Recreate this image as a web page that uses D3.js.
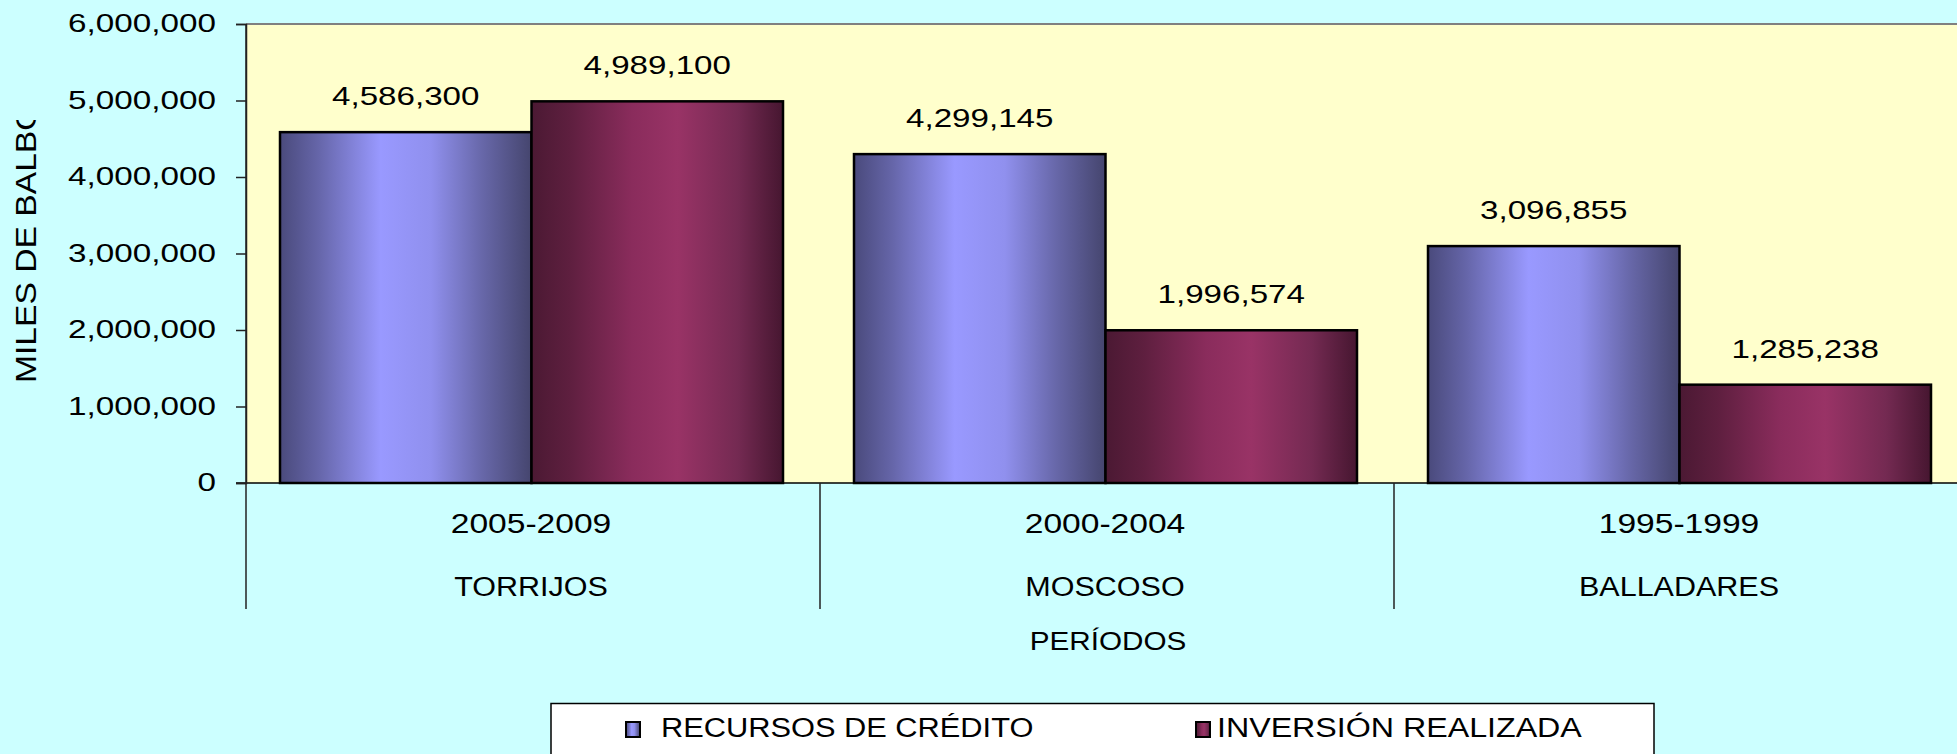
<!DOCTYPE html>
<html><head><meta charset="utf-8">
<script src="https://cdn.jsdelivr.net/npm/d3@7"></script>
<style>html,body{margin:0;padding:0;background:#CCFFFF;overflow:hidden}svg{display:block}</style>
</head><body>
<svg id="c" width="1957" height="754"></svg>
<script>
const periods = ["2005-2009", "2000-2004", "1995-1999"];
const presidents = ["TORRIJOS", "MOSCOSO", "BALLADARES"];
const seriesNames = ["RECURSOS DE CRÉDITO", "INVERSIÓN REALIZADA"];
const recursos = [4586300, 4299145, 3096855];
const inversion = [4989100, 1996574, 1285238];
const yTicks = [0, 1000000, 2000000, 3000000, 4000000, 5000000, 6000000];
const yTitle = "MILES DE BALBOAS";
const xTitle = "PERÍODOS";

const W = 1957, H = 754;
const FONT = "Arial, 'Liberation Sans', sans-serif";
const svg = d3.select("#c");
svg.append("rect").attr("width", W).attr("height", H).attr("fill", "#CCFFFF");

const defs = svg.append("defs");
function grad(id, stops) {
  const g = defs.append("linearGradient").attr("id", id).attr("x1", "0%").attr("x2", "100%").attr("y1", "0%").attr("y2", "0%");
  stops.forEach(s => g.append("stop").attr("offset", s[0]).attr("stop-color", s[1]));
}
grad("gBlue", [[0, "#4a4a7c"], [0.15, "#6565a8"], [0.4, "#9999ff"], [0.6, "#9090ee"], [0.8, "#6868aa"], [1, "#45456e"]]);
grad("gMaroon", [[0, "#4b1933"], [0.15, "#5e1f3f"], [0.4, "#8a2c5c"], [0.58, "#993366"], [0.82, "#742a52"], [1, "#461630"]]);
const fills = ["url(#gBlue)", "url(#gMaroon)"];

const plotL = 246, plotT = 24, plotB = 483, groupW = 574;
const y = d3.scaleLinear().domain([0, 6000000]).range([plotB, plotT]);
const x0 = d3.scaleBand().domain(periods).range([plotL, plotL + groupW * periods.length]).padding(0);
const x1 = d3.scaleBand().domain(seriesNames).range([34, groupW - 37]).padding(0);

// plot area
svg.append("rect").attr("x", plotL).attr("y", plotT).attr("width", W - plotL).attr("height", plotB - plotT).attr("fill", "#FFFFCC");
svg.append("line").attr("x1", plotL).attr("x2", W).attr("y1", plotT).attr("y2", plotT).attr("stroke", "#808080").attr("stroke-width", 2);

const fmt = d3.format(",");
const rows = periods.map((p, i) => ({p, vals: [recursos[i], inversion[i]]}));

const grp = svg.append("g").selectAll("g").data(rows).join("g")
  .attr("transform", d => `translate(${x0(d.p)},0)`);
grp.selectAll("rect").data(d => d.vals.map((v, k) => ({v, k}))).join("rect")
  .attr("x", d => x1(seriesNames[d.k]))
  .attr("width", x1.bandwidth())
  .attr("y", d => y(d.v))
  .attr("height", d => plotB - y(d.v))
  .attr("fill", d => fills[d.k])
  .attr("stroke", "#000").attr("stroke-width", 2.5);

// stretched text helper
function stext(g, x, yy, txt, size, sx, anchor) {
  return g.append("text")
    .attr("transform", `translate(${x},${yy}) scale(${sx},1)`)
    .attr("text-anchor", anchor || "middle")
    .attr("font-family", FONT).attr("font-size", size).attr("fill", "#000")
    .text(txt);
}

// data labels
rows.forEach(r => {
  r.vals.forEach((v, k) => {
    stext(svg, x0(r.p) + x1(seriesNames[k]) + x1.bandwidth() / 2, y(v) - 27, fmt(v), 26.5, 1.25);
  });
});

// x axis line
svg.append("line").attr("x1", plotL - 10).attr("x2", W).attr("y1", plotB).attr("y2", plotB).attr("stroke", "#000").attr("stroke-width", 1.5);
// y axis
const yAxis = d3.axisLeft(y).tickValues(yTicks).tickSize(10).tickPadding(20).tickFormat(fmt);
const ya = svg.append("g").attr("transform", `translate(${plotL},0)`).call(yAxis);
ya.select(".domain").attr("stroke", "#222").attr("stroke-width", 1.5);
ya.selectAll(".tick line").attr("stroke", "#222").attr("stroke-width", 1.5);
ya.selectAll(".tick text").attr("font-family", FONT).attr("font-size", 25.6).attr("fill", "#000")
  .attr("x", -30 / 1.3).attr("transform", "scale(1.3,1)").attr("dy", "0.3em");

// category separators
svg.append("line").attr("x1", plotL).attr("x2", plotL).attr("y1", plotT).attr("y2", 609).attr("stroke", "#222").attr("stroke-width", 1.5);
periods.forEach((p, i) => {
  if (i > 0) svg.append("line").attr("x1", x0(p)).attr("x2", x0(p)).attr("y1", plotB).attr("y2", 609).attr("stroke", "#222").attr("stroke-width", 1.5);
  const cx = x0(p) + x0.bandwidth() / 2 - 2;
  stext(svg, cx, 533, p, 28, 1.2);
  stext(svg, cx, 596, presidents[i], 28, 1.09);
});

// x title
stext(svg, 1108, 650, xTitle, 25.6, 1.16);

// y title (clipped like original)
defs.append("clipPath").attr("id", "ytClip").append("rect").attr("x", 0).attr("y", 120).attr("width", 60).attr("height", 400);
svg.append("g").attr("clip-path", "url(#ytClip)").append("text")
  .attr("transform", "translate(36,383) rotate(-90) scale(1.16,1)")
  .attr("text-anchor", "start").attr("font-family", FONT).attr("font-size", 29).attr("fill", "#000")
  .text(yTitle);

// legend
const lg = svg.append("g");
lg.append("rect").attr("x", 551).attr("y", 703.5).attr("width", 1103).attr("height", 80).attr("fill", "#FFFFFF").attr("stroke", "#000").attr("stroke-width", 1.5);
const legX = [626, 1196];
const legTextX = [661, 1217];
seriesNames.forEach((s, k) => {
  lg.append("rect").attr("x", legX[k]).attr("y", 722).attr("width", 14).attr("height", 15).attr("fill", fills[k]).attr("stroke", "#000").attr("stroke-width", 2);
  stext(lg, legTextX[k], 736.5, s, 28, k === 0 ? 1.1 : 1.15, "start");
});
</script>
</body></html>
